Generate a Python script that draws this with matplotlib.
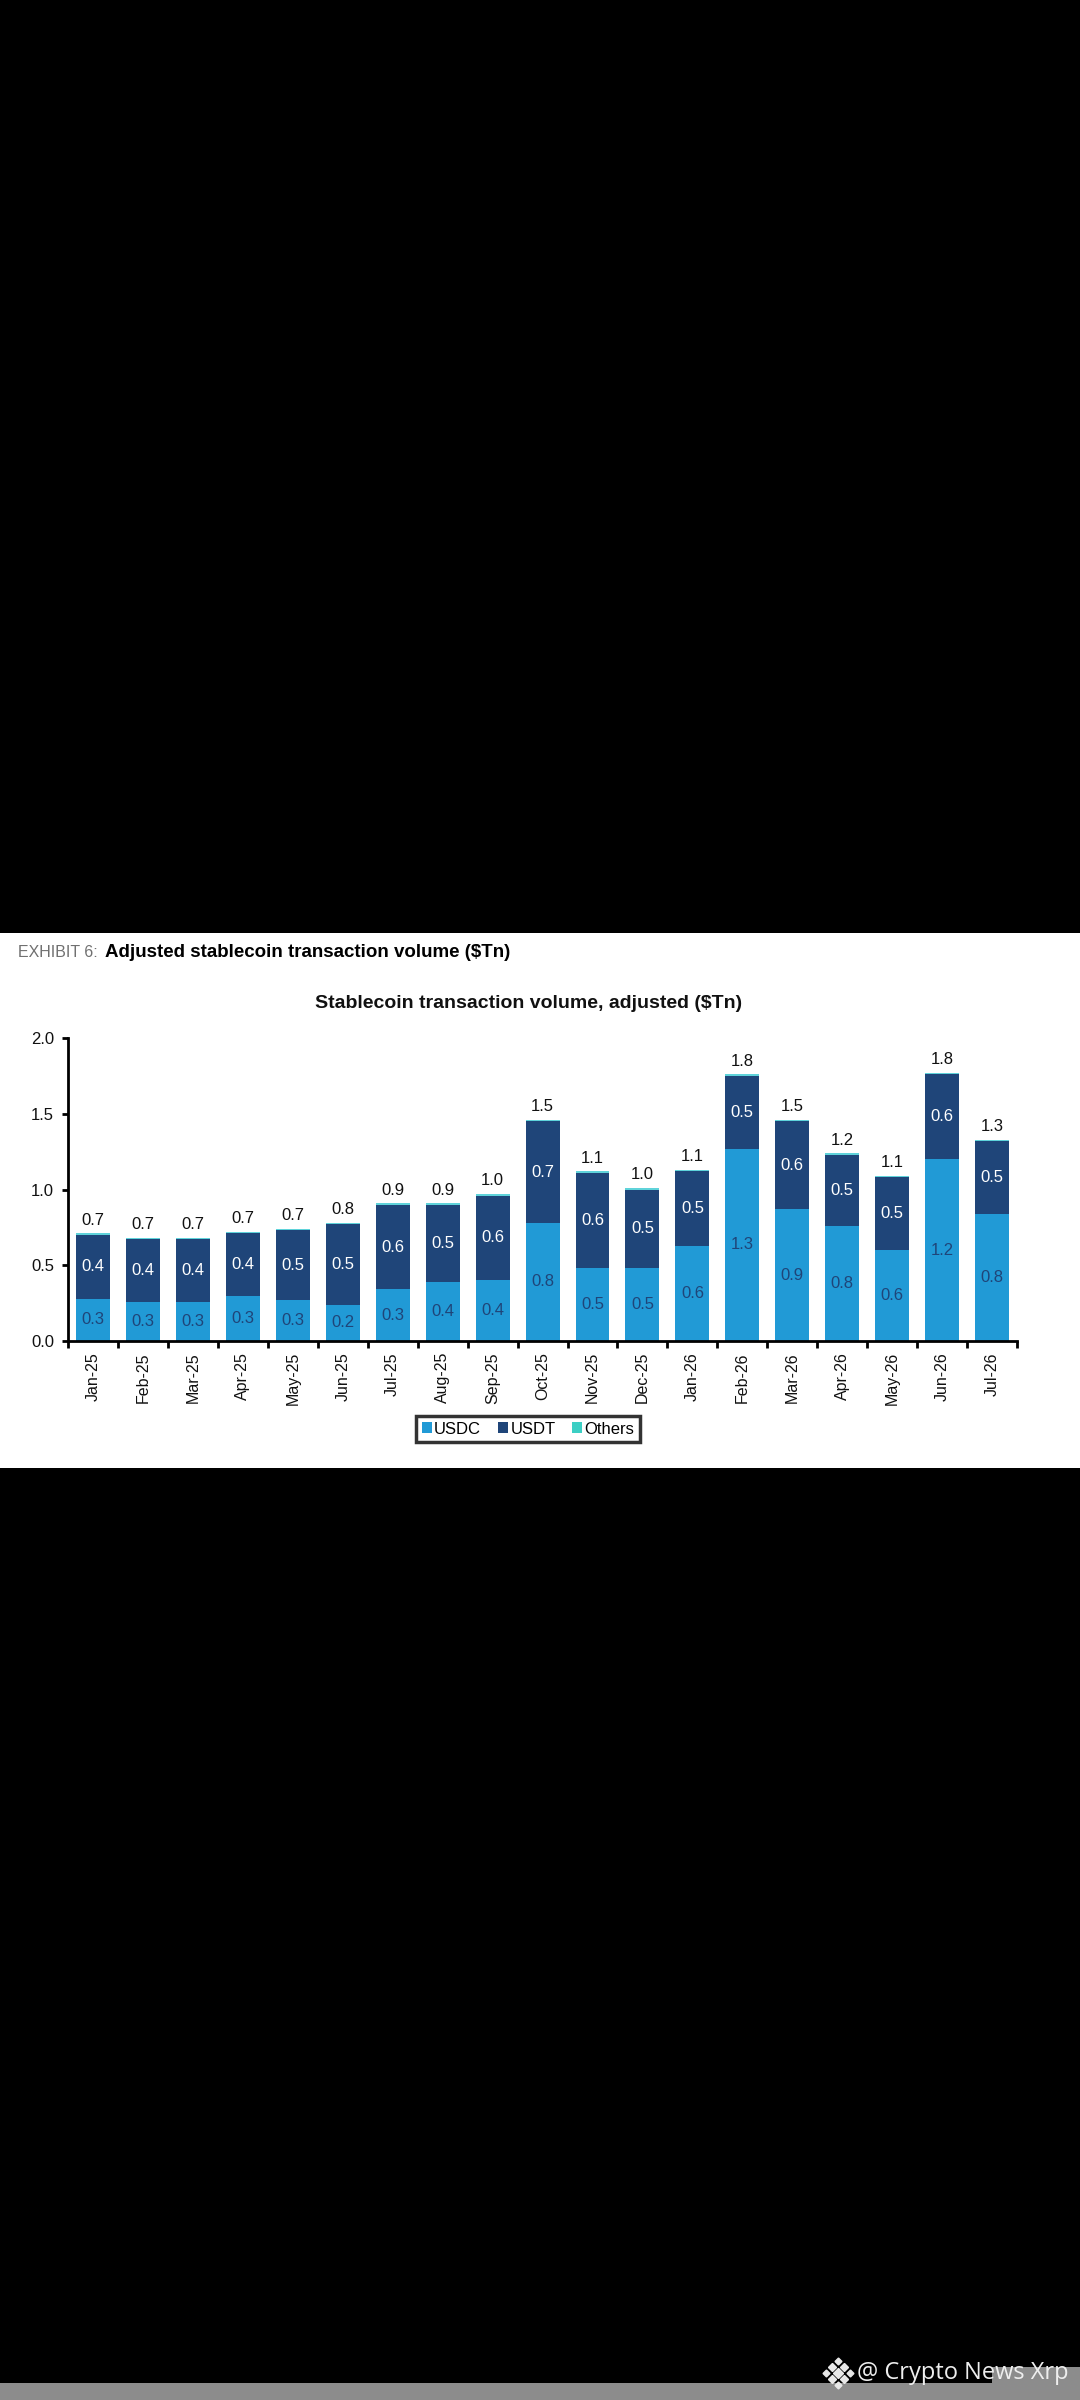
import matplotlib
matplotlib.use('Agg')
import matplotlib.pyplot as plt
from matplotlib.patches import Rectangle, Patch
import numpy as np

months = ['Jan-25', 'Feb-25', 'Mar-25', 'Apr-25', 'May-25', 'Jun-25', 'Jul-25', 'Aug-25', 'Sep-25',
          'Oct-25', 'Nov-25', 'Dec-25', 'Jan-26', 'Feb-26', 'Mar-26', 'Apr-26', 'May-26', 'Jun-26', 'Jul-26']
usdc = [0.28, 0.26, 0.26, 0.30, 0.27, 0.24, 0.34, 0.39, 0.40, 0.78, 0.48, 0.48, 0.63, 1.27, 0.87, 0.76, 0.60, 1.20, 0.84]
usdt = [0.42, 0.41, 0.41, 0.41, 0.46, 0.53, 0.56, 0.51, 0.56, 0.67, 0.63, 0.52, 0.49, 0.48, 0.58, 0.47, 0.48, 0.56, 0.48]
others = [0.01, 0.01, 0.01, 0.01, 0.01, 0.01, 0.01, 0.01, 0.01, 0.01, 0.01, 0.01, 0.01, 0.01, 0.01, 0.01, 0.01, 0.01, 0.01]
yticks = [0.0, 0.5, 1.0, 1.5, 2.0]

c_usdc = '#219AD6'
c_usdt = '#1F4579'
c_oth = '#5FD3DA'

plt.rcParams['font.family'] = ['Liberation Sans', 'DejaVu Sans']

fig = plt.figure(figsize=(10.8, 24), dpi=100)
fig.patch.set_facecolor('black')

# white panel holding the exhibit
fig.patches.append(Rectangle((0, 0.3883), 1, 0.2230, transform=fig.transFigure,
                             facecolor='white', edgecolor='none', zorder=-5))

fig.text(0.0167, 0.6033, 'EXHIBIT 6:', color='#707070', fontsize=11.5, va='center', ha='left')
fig.text(0.0972, 0.6033, 'Adjusted stablecoin transaction volume ($Tn)', color='black',
         fontsize=13.5, fontweight='bold', va='center', ha='left')
fig.text(0.489, 0.582, 'Stablecoin transaction volume, adjusted ($Tn)', fontsize=14,
         fontweight='bold', ha='center', va='center', color='#111111')

ax = fig.add_axes([0.0630, 0.44125, 0.8787, 0.12625])
ax.set_facecolor('white')
x = np.arange(len(months))
usdc_a = np.array(usdc)
usdt_a = np.array(usdt)
oth_a = np.array(others)
totals = usdc_a + usdt_a + oth_a

w = 0.68
b1 = ax.bar(x, usdc_a, w, color=c_usdc, label='USDC')
b2 = ax.bar(x, usdt_a, w, bottom=usdc_a, color=c_usdt, label='USDT')
b3 = ax.bar(x, oth_a, w, bottom=usdc_a + usdt_a, color=c_oth, label='Others')

ax.bar_label(b1, labels=['%.1f' % v for v in usdc], label_type='center', color=c_usdt, fontsize=12)
ax.bar_label(b2, labels=['%.1f' % v for v in usdt], label_type='center', color='white', fontsize=12)
ax.bar_label(b3, labels=['%.1f' % v for v in totals], padding=4, color='#111111', fontsize=12)

ax.set_xlim(-0.5, len(months) - 0.5)
ax.set_ylim(0, 2.0)
ax.set_yticks(yticks)
ax.set_yticklabels(['%.1f' % v for v in yticks], fontsize=12, color='#111111')
ax.set_xticks(x)
ax.set_xticklabels(months, rotation=90, fontsize=11.5, color='#111111')
ax.set_xticks(np.arange(-0.5, len(months)), minor=True)
ax.tick_params(axis='x', which='major', length=0, pad=8)
ax.tick_params(axis='x', which='minor', length=5, width=2, direction='out')
ax.tick_params(axis='y', length=4, width=2, direction='out', pad=6)
for s in ['top', 'right']:
    ax.spines[s].set_visible(False)
for s in ['left', 'bottom']:
    ax.spines[s].set_linewidth(2)
    ax.spines[s].set_color('black')

handles = [Patch(facecolor=c_usdc, label='USDC'), Patch(facecolor=c_usdt, label='USDT'),
           Patch(facecolor='#3CCFC4', label='Others')]
leg = fig.legend(handles=handles, loc='lower center', bbox_to_anchor=(0.489, 0.3955), ncol=3,
                 fontsize=12, frameon=True, fancybox=False, handlelength=0.6, handleheight=0.6,
                 handletextpad=0.15, columnspacing=1.0, borderpad=0.35)
leg.get_frame().set_edgecolor('black')
leg.get_frame().set_linewidth(2.5)

# watermark at the bottom
fig.patches.append(Rectangle((0, 0), 1, 17 / 2400, transform=fig.transFigure,
                             facecolor='#8c8c8c', edgecolor='none'))
fig.patches.append(Rectangle((992 / 1080, 17 / 2400), 88 / 1080, 16 / 2400, transform=fig.transFigure,
                             facecolor='#8c8c8c', edgecolor='none'))
ix, iy = 838 / 1080, (2400 - 2373) / 2400
dx, dy = 6 / 1080, 6 / 2400
for ox, oy, ms in [(0, 0, 5), (-dx, dy, 4), (dx, dy, 4), (-dx, -dy, 4), (dx, -dy, 4),
                   (-2 * dx, 0, 3.5), (2 * dx, 0, 3.5), (0, 2 * dy, 3.5), (0, -2 * dy, 3.5)]:
    fig.add_artist(plt.Line2D([ix + ox], [iy + oy], marker='D', markersize=ms, color='#e8e8e8',
                              transform=fig.transFigure, linestyle='none'))
fig.text(857 / 1080, iy, '@ Crypto News Xrp', color='#eeeeee', fontsize=17,
         family=['Open Sans', 'DejaVu Sans'], ha='left', va='center')

fig.savefig('out.png', dpi=100, facecolor=fig.get_facecolor())
